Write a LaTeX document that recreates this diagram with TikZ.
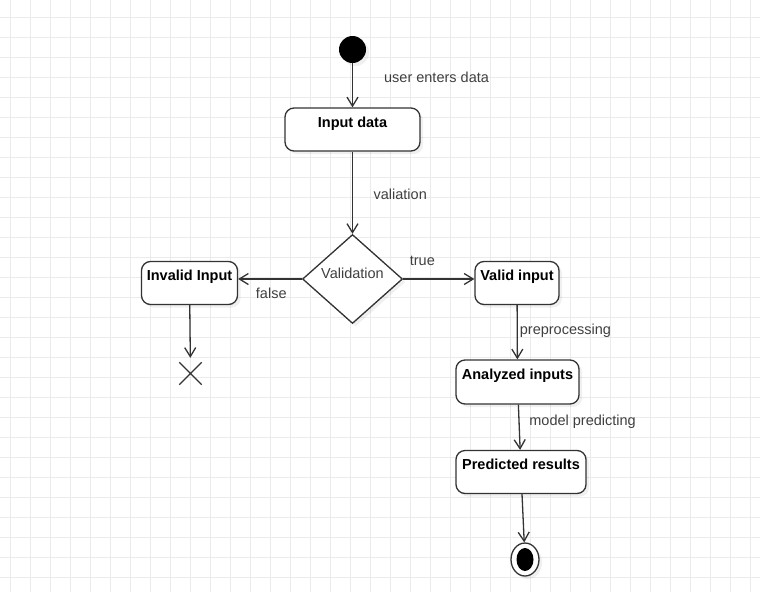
\documentclass[tikz,border=0pt]{standalone}
\usepackage{fontspec}
\setmainfont{Liberation Sans}
\usetikzlibrary{arrows.meta, positioning, shapes.geometric, shapes.misc, shadows}

\definecolor{linegray}{HTML}{333333}
\definecolor{labelgray}{HTML}{3F3F3F}
\definecolor{gridgray}{HTML}{EBEBEB}
\newcommand{\diagfont}{\fontsize{14.5}{17}\selectfont}

\tikzset{
    softshadow/.style = {drop shadow={shadow xshift=3pt, shadow yshift=-3pt, opacity=0.12}},
    action/.style = {draw=linegray, line width=1.3pt, fill=white, rounded corners=9pt,
        font=\diagfont\bfseries, inner sep=0pt, text height=19pt, text depth=24pt,
        minimum height=43pt, softshadow},
    decision/.style = {diamond, draw=linegray, line width=1.3pt, fill=white, inner sep=0pt,
        minimum width=100pt, minimum height=89pt, font=\diagfont, text=labelgray,
        text height=10.5pt, text depth=12.5pt, softshadow},
    startdot/.style = {circle, fill=black, minimum size=27pt, inner sep=0pt, softshadow},
    enddot/.style = {ellipse, draw=linegray, line width=1.3pt, fill=white, inner sep=0pt,
        minimum width=28pt, minimum height=33pt, softshadow,
        path picture={\fill [black] (path picture bounding box.center)
            ellipse [x radius=8.5pt, y radius=11.5pt];}},
    stopmark/.style = {cross out, draw=linegray, line width=1.3pt, minimum size=21pt, inner sep=0pt},
    flow/.style = {-{Straight Barb[length=9pt, width=11pt]}, color=linegray, line width=1.3pt},
    lbl/.style = {font=\diagfont, text=labelgray, inner sep=0pt}
}

\begin{document}
\begin{tikzpicture} [node distance = 2cm, on grid]
        \useasboundingbox (0pt,0pt) rectangle (760pt,-592pt);
        % background grid
        \foreach \gx in {10,30,...,750}
            \draw [gridgray, line width=0.8pt] (\gx pt,0pt) -- (\gx pt,-592pt);
        \foreach \gy in {17,37,...,577}
            \draw [gridgray, line width=0.8pt] (0pt,-\gy pt) -- (760pt,-\gy pt);

        \node (start) [startdot] at (352.5pt,-49.5pt) {};
        \node (input) [action, minimum width=135pt, below = 80pt of start] {Input data};
        \node (check) [decision, below = 149.5pt of input] {Validation};
        \node (invalid) [action, minimum width=96pt, below left = 4pt and 163pt of check] {Invalid Input};
        \node (stop) [stopmark, below right = 90.5pt and 1pt of invalid] {};
        \node (valid) [action, minimum width=84pt, below right = 4pt and 164.5pt of check] {Valid input};
        \node (analyzed) [action, minimum width=123pt, minimum height=44pt, below right = 99pt and 0.5pt of valid] {Analyzed inputs};
        \node (predicted) [action, minimum width=130pt, below right = 90pt and 3.5pt of analyzed] {Predicted results};
        \node (final) [enddot, below right = 87.5pt and 4pt of predicted] {};

        \path [flow] (start) edge node [lbl, anchor=base west, xshift=31pt, yshift=2.5pt] {user enters data} (input);
        \path [flow] (input) edge node [lbl, anchor=base west, xshift=20.5pt, yshift=-7pt] {valiation} (check);
        \path [flow] (check.west) edge node [lbl, pos=0.48, anchor=base, yshift=-19.5pt] {false} (check.west -| invalid.east);
        \path [flow] (check.east) edge node [lbl, pos=0.27, anchor=base, yshift=13.3pt] {true} (check.east -| valid.west);
        \path [flow, shorten >=4.5pt] (invalid) edge (stop);
        \path [flow] (valid) edge node [lbl, anchor=base west, xshift=2pt, yshift=-2pt] {preprocessing} (analyzed);
        \path [flow] (analyzed) edge node [lbl, anchor=base west, xshift=9.5pt, yshift=2pt] {model predicting} (predicted);
        \path [flow] (predicted) edge (final);
    \end{tikzpicture}
\end{document}
